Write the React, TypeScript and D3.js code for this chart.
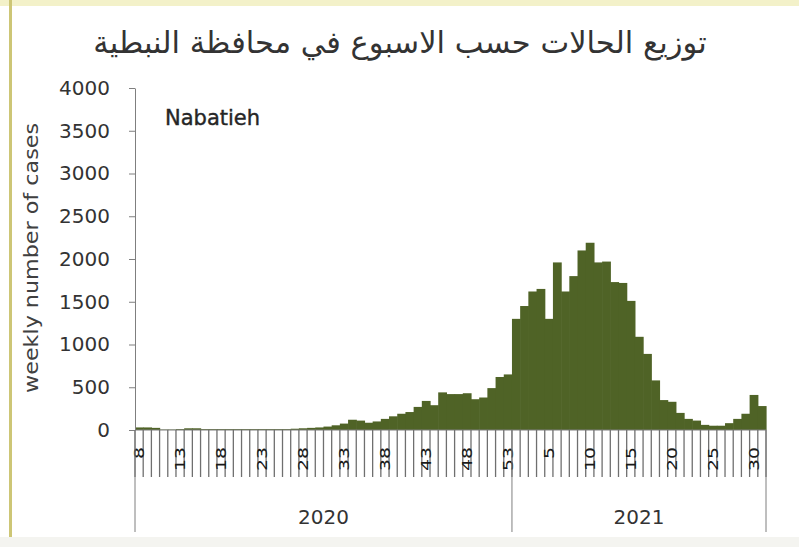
import React, { useRef, useEffect } from 'react';
import * as d3 from 'd3';

// weekly cases, Nabatieh governorate
const weeks2020 = ['8', '9', '10', '11', '12', '13', '14', '15', '16', '17', '18', '19', '20', '21', '22', '23',
    '24', '25', '26', '27', '28', '29', '30', '31', '32', '33', '34', '35', '36', '37', '38', '39', '40', '41',
    '42', '43', '44', '45', '46', '47', '48', '49', '50', '51', '52', '53'];
const cases2020 = [30, 30, 25, 5, 5, 10, 20, 20, 10, 10, 10, 10, 10, 10, 10, 10,
    10, 10, 10, 15, 20, 25, 30, 40, 55, 75, 120, 110, 85, 100, 130, 160, 190, 210,
    270, 340, 290, 440, 420, 420, 430, 360, 380, 490, 620, 650];

const weeks2021 = ['1', '2', '3', '4', '5', '6', '7', '8', '9', '10', '11', '12', '13', '14', '15', '16',
    '17', '18', '19', '20', '21', '22', '23', '24', '25', '26', '27', '28', '29', '30', '31'];
const cases2021 = [1300, 1450, 1620, 1650, 1300, 1960, 1620, 1800, 2100, 2190, 1960, 1970, 1730, 1720, 1510, 1090,
    890, 580, 350, 330, 200, 130, 110, 60, 50, 50, 80, 130, 190, 410, 280];

const labels2020 = ['8', '13', '18', '23', '28', '33', '38', '43', '48', '53'];
const labels2021 = ['5', '10', '15', '20', '25', '30'];
const years = ['2020', '2021'];
const yTicks = [0, 500, 1000, 1500, 2000, 2500, 3000, 3500, 4000];

const title = 'توزيع الحالات حسب الاسبوع في محافظة النبطية';

interface Week {
    key: string;
    year: string;
    week: string;
    value: number;
    labelled: boolean;
}

const Chart: React.FC = () => {
    const svgRef = useRef<SVGSVGElement | null>(null);

    useEffect(() => {
        if (!svgRef.current) return;
        const svg = d3.select(svgRef.current);
        svg.selectAll('*').remove();

        const left = 135, right = 766, top = 88, bottom = 430;
        const font = '"DejaVu Sans", Verdana, sans-serif';

        const data: Week[] = [
            ...weeks2020.map((w, i) => ({ key: '2020-' + w, year: '2020', week: w, value: cases2020[i], labelled: labels2020.includes(w) })),
            ...weeks2021.map((w, i) => ({ key: '2021-' + w, year: '2021', week: w, value: cases2021[i], labelled: labels2021.includes(w) })),
        ];

        const x = d3.scaleBand<string>().domain(data.map(d => d.key)).range([left, right]).padding(0);
        const y = d3.scaleLinear().domain([0, 4000]).range([bottom, top]);
        const bw = x.bandwidth();

        // page frame
        svg.append('rect').attr('width', 799).attr('height', 547).attr('fill', '#ffffff');
        svg.append('rect').attr('width', 799).attr('height', 6).attr('fill', '#f3f1c9');
        svg.append('rect').attr('x', 9).attr('width', 3).attr('height', 547).attr('fill', '#cdc676');
        svg.append('rect').attr('y', 537).attr('width', 799).attr('height', 10).attr('fill', '#f4f4f0');

        svg.append('text')
            .attr('x', 400).attr('y', 53)
            .attr('text-anchor', 'middle')
            .attr('direction', 'rtl')
            .style('font-family', font)
            .style('font-size', '30.5px')
            .attr('fill', '#333')
            .text(title);

        // bars
        svg.append('g')
            .selectAll('rect')
            .data(data)
            .join('rect')
            .attr('x', d => x(d.key)!)
            .attr('width', bw + 0.6)
            .attr('y', d => y(d.value))
            .attr('height', d => y(0) - y(d.value))
            .attr('fill', '#4f6326');

        // y axis
        const yAxis = svg.append('g')
            .attr('transform', `translate(${left},0)`)
            .call(d3.axisLeft(y).tickValues(yTicks).tickSize(6).tickSizeOuter(0).tickPadding(19).tickFormat(d3.format('d')));
        yAxis.select('.domain').attr('stroke', '#7f7f7f');
        yAxis.selectAll('.tick line').attr('stroke', '#7f7f7f');
        yAxis.selectAll('.tick text')
            .style('font-family', font)
            .style('font-size', '20px')
            .attr('fill', '#333');

        svg.append('text')
            .attr('transform', `translate(31,258) rotate(-90)`)
            .attr('text-anchor', 'middle')
            .attr('dominant-baseline', 'central')
            .attr('textLength', 270)
            .attr('lengthAdjust', 'spacingAndGlyphs')
            .style('font-family', font)
            .style('font-size', '19px')
            .attr('fill', '#404040')
            .text('weekly number of cases');

        // x axis line and category ticks
        svg.append('line')
            .attr('x1', left).attr('x2', right).attr('y1', bottom).attr('y2', bottom)
            .attr('stroke', '#7f7f7f');

        const bounds = data.map(d => x(d.key)!).concat([right]);
        svg.append('g')
            .selectAll('line')
            .data(bounds)
            .join('line')
            .attr('x1', d => d).attr('x2', d => d)
            .attr('y1', bottom).attr('y2', 477)
            .attr('stroke', '#6f6f6f')
            .attr('stroke-width', 1.3);

        svg.append('g')
            .selectAll('text')
            .data(data.filter(d => d.labelled))
            .join('text')
            .attr('transform', d => `translate(${x(d.key)! + bw / 2},447) rotate(-90)`)
            .attr('text-anchor', 'end')
            .attr('dominant-baseline', 'central')
            .attr('textLength', d => d.week.length * 12)
            .attr('lengthAdjust', 'spacingAndGlyphs')
            .style('font-family', font)
            .style('font-size', '14px')
            .attr('fill', '#1a1a1a')
            .text(d => d.week);

        // year groups
        const yearStart = years.map(yr => x(data.find(d => d.year === yr)!.key)!);
        const seps = yearStart.concat([right]);
        svg.append('g')
            .selectAll('line')
            .data(seps)
            .join('line')
            .attr('x1', d => d).attr('x2', d => d)
            .attr('y1', bottom).attr('y2', 532)
            .attr('stroke', '#7f7f7f');

        svg.append('g')
            .selectAll('text')
            .data(years)
            .join('text')
            .attr('x', (d, i) => (seps[i] + seps[i + 1]) / 2)
            .attr('y', 524)
            .attr('text-anchor', 'middle')
            .style('font-family', font)
            .style('font-size', '20px')
            .attr('fill', '#333')
            .text(d => d);

        svg.append('text')
            .attr('x', 165).attr('y', 125)
            .style('font-family', font)
            .style('font-size', '21px')
            .attr('fill', '#262626')
            .attr('stroke', '#262626')
            .attr('stroke-width', 0.4)
            .text('Nabatieh');
    }, []);

    return <svg ref={svgRef} width={799} height={547}
        style={{ position: 'absolute', left: 0, top: 0, display: 'block' }} />;
};

export default function App() {
    return <Chart />;
}
